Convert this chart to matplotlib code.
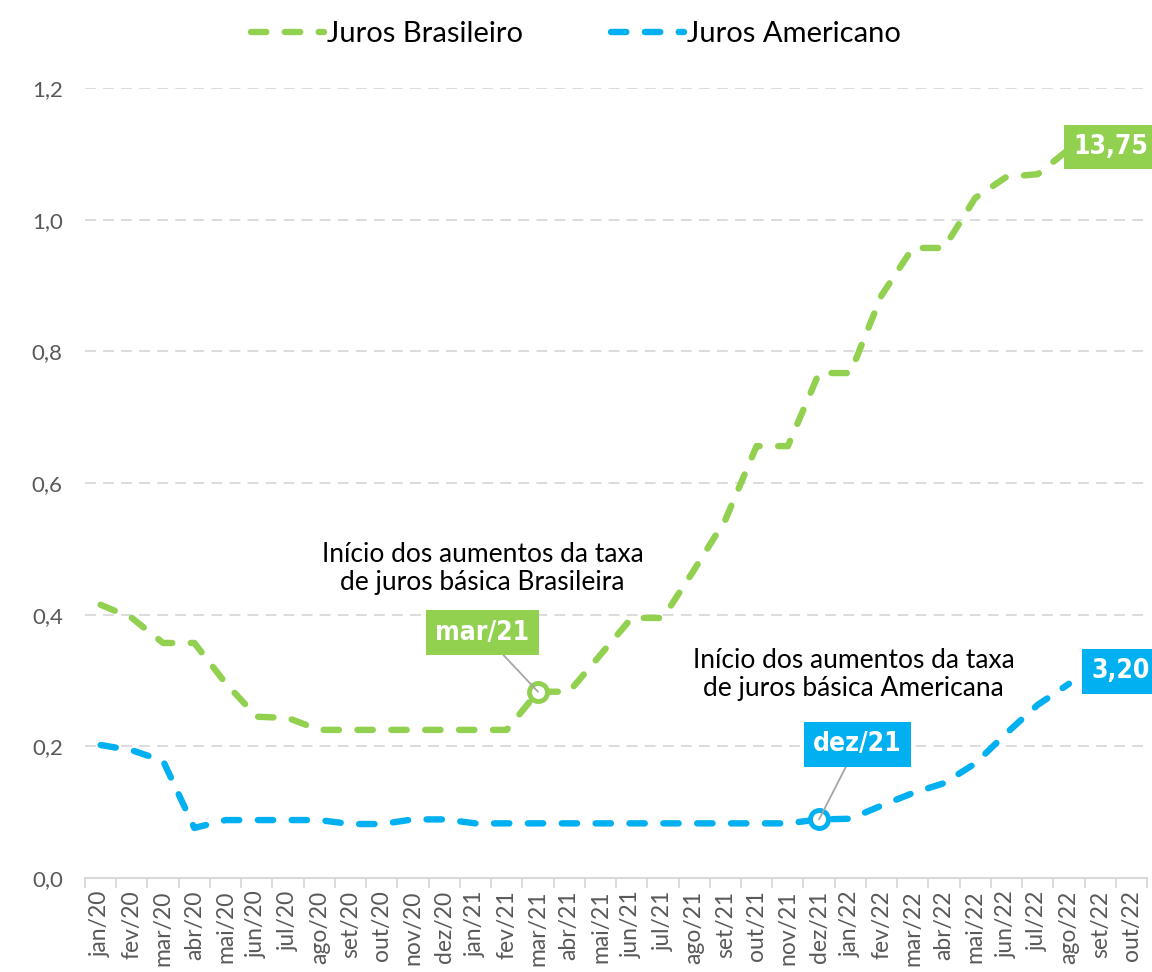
import matplotlib
matplotlib.use("Agg")
import matplotlib.pyplot as plt
import numpy as np

plt.rcParams['font.family'] = ['Lato', 'DejaVu Sans']

months = ["jan/20", "fev/20", "mar/20", "abr/20", "mai/20", "jun/20", "jul/20", "ago/20",
          "set/20", "out/20", "nov/20", "dez/20", "jan/21", "fev/21", "mar/21", "abr/21",
          "mai/21", "jun/21", "jul/21", "ago/21", "set/21", "out/21", "nov/21", "dez/21",
          "jan/22", "fev/22", "mar/22", "abr/22", "mai/22", "jun/22", "jul/22", "ago/22",
          "set/22", "out/22"]

juros_br = [0.415, 0.395, 0.357, 0.357, 0.296, 0.245, 0.243, 0.225, 0.225, 0.225, 0.225, 0.225,
            0.225, 0.225, 0.283, 0.283, 0.339, 0.395, 0.395, 0.468, 0.544, 0.656, 0.656, 0.767,
            0.767, 0.885, 0.957, 0.957, 1.033, 1.065, 1.069, 1.107]
juros_us = [0.202, 0.194, 0.178, 0.076, 0.088, 0.088, 0.088, 0.088, 0.082, 0.082, 0.089, 0.089,
            0.083, 0.083, 0.083, 0.083, 0.083, 0.083, 0.083, 0.083, 0.083, 0.083, 0.083, 0.089,
            0.090, 0.110, 0.129, 0.144, 0.174, 0.220, 0.263, 0.295]

yticks = [0.0, 0.2, 0.4, 0.6, 0.8, 1.0, 1.2]
ytick_labels = ["0,0", "0,2", "0,4", "0,6", "0,8", "1,0", "1,2"]

label_br_last = "13,75"
label_us_last = "3,20"
label_br_start = "mar/21"
label_us_start = "dez/21"
idx_br_start = months.index("mar/21")
idx_us_start = months.index("dez/21")
note_br = "Início dos aumentos da taxa\nde juros básica Brasileira"
note_us = "Início dos aumentos da taxa\nde juros básica Americana"

GREEN = "#92D050"
BLUE = "#00B0F0"
GRID = "#D9D9D9"
TICKC = "#595959"

fig = plt.figure(figsize=(11.52, 9.72), dpi=100)
ax = fig.add_axes([0.0738, 0.0967, 0.9219, 0.8128])

x = np.arange(len(months))
lw = 4.6
dash = (2.4, 2.9)
for vals, col, name in [(juros_br, GREEN, "Juros Brasileiro"), (juros_us, BLUE, "Juros Americano")]:
    ax.plot(x[:len(vals)], vals, color=col, lw=lw, dashes=dash,
            dash_capstyle='round', solid_capstyle='round', dash_joinstyle='round', label=name, zorder=3)

# highlighted start points
ax.plot([idx_br_start], [juros_br[idx_br_start]], 'o', ms=13, mfc='white', mec=GREEN, mew=3.5, zorder=4)
ax.plot([idx_us_start], [juros_us[idx_us_start]], 'o', ms=13, mfc='white', mec=BLUE, mew=3.5, zorder=4)

ax.set_xlim(-0.5, len(months) - 0.5)
ax.set_ylim(0, 1.2)
ax.set_yticks(yticks)
ax.set_yticklabels(ytick_labels, fontsize=16, color=TICKC)
ax.set_xticks(x)
ax.set_xticklabels(months, rotation=90, fontsize=16.5, color=TICKC)
ax.set_xticks(np.arange(len(months) + 1) - 0.5, minor=True)
ax.tick_params(axis='x', which='major', length=0, pad=9)
ax.tick_params(axis='x', which='minor', length=7, color=GRID, width=1.3)
ax.tick_params(axis='y', length=0, pad=16)

for s in ['left', 'right', 'top']:
    ax.spines[s].set_visible(False)
ax.spines['bottom'].set_color(GRID)
ax.spines['bottom'].set_linewidth(1.5)
ax.yaxis.grid(True, color=GRID, lw=1.3, dashes=(6, 4))
ax.set_axisbelow(True)

# callout labels
box_kw = dict(fontsize=19, fontweight='bold', color='white', ha='center', va='center',
              family=['DejaVu Sans'], fontstretch='condensed')
ax.annotate(label_br_start, xy=(idx_br_start, juros_br[idx_br_start]), xytext=(-40, 42.5),
            textcoords='offset points',
            bbox=dict(boxstyle='square,pad=0.35', fc=GREEN, ec='none'),
            arrowprops=dict(arrowstyle='-', color='#A6A6A6', lw=1.3, shrinkA=0, shrinkB=0),
            zorder=5, **box_kw)
ax.annotate(label_us_start, xy=(idx_us_start, juros_us[idx_us_start]), xytext=(27.5, 54),
            textcoords='offset points',
            bbox=dict(boxstyle='square,pad=0.35', fc=BLUE, ec='none'),
            arrowprops=dict(arrowstyle='-', color='#A6A6A6', lw=1.3, shrinkA=0, shrinkB=0),
            zorder=5, **box_kw)
ax.annotate(label_br_last, xy=(len(juros_br) - 1, juros_br[-1]), xytext=(30, 1.5),
            textcoords='offset points',
            bbox=dict(boxstyle='square,pad=0.35', fc=GREEN, ec='none'),
            annotation_clip=False, zorder=5, **box_kw)
ax.annotate(label_us_last, xy=(len(juros_us) - 1, juros_us[-1]), xytext=(37, 9),
            textcoords='offset points',
            bbox=dict(boxstyle='square,pad=0.35', fc=BLUE, ec='none'),
            annotation_clip=False, zorder=5, **box_kw)

# notes
ax.annotate(note_br, xy=(idx_br_start, juros_br[idx_br_start]), xytext=(-40, 89),
            textcoords='offset points', ha='center', va='center', fontsize=19,
            linespacing=1.15, color='black')
ax.annotate(note_us, xy=(idx_us_start, juros_us[idx_us_start]), xytext=(25, 104),
            textcoords='offset points', ha='center', va='center', fontsize=19,
            linespacing=1.15, color='black')

leg = fig.legend(loc='upper center', bbox_to_anchor=(0.5, 1.005), ncol=2, frameon=False,
                 prop=dict(size=21), handlelength=2.5, handletextpad=0.1,
                 columnspacing=3.0)

fig.savefig("out.png", dpi=100)
